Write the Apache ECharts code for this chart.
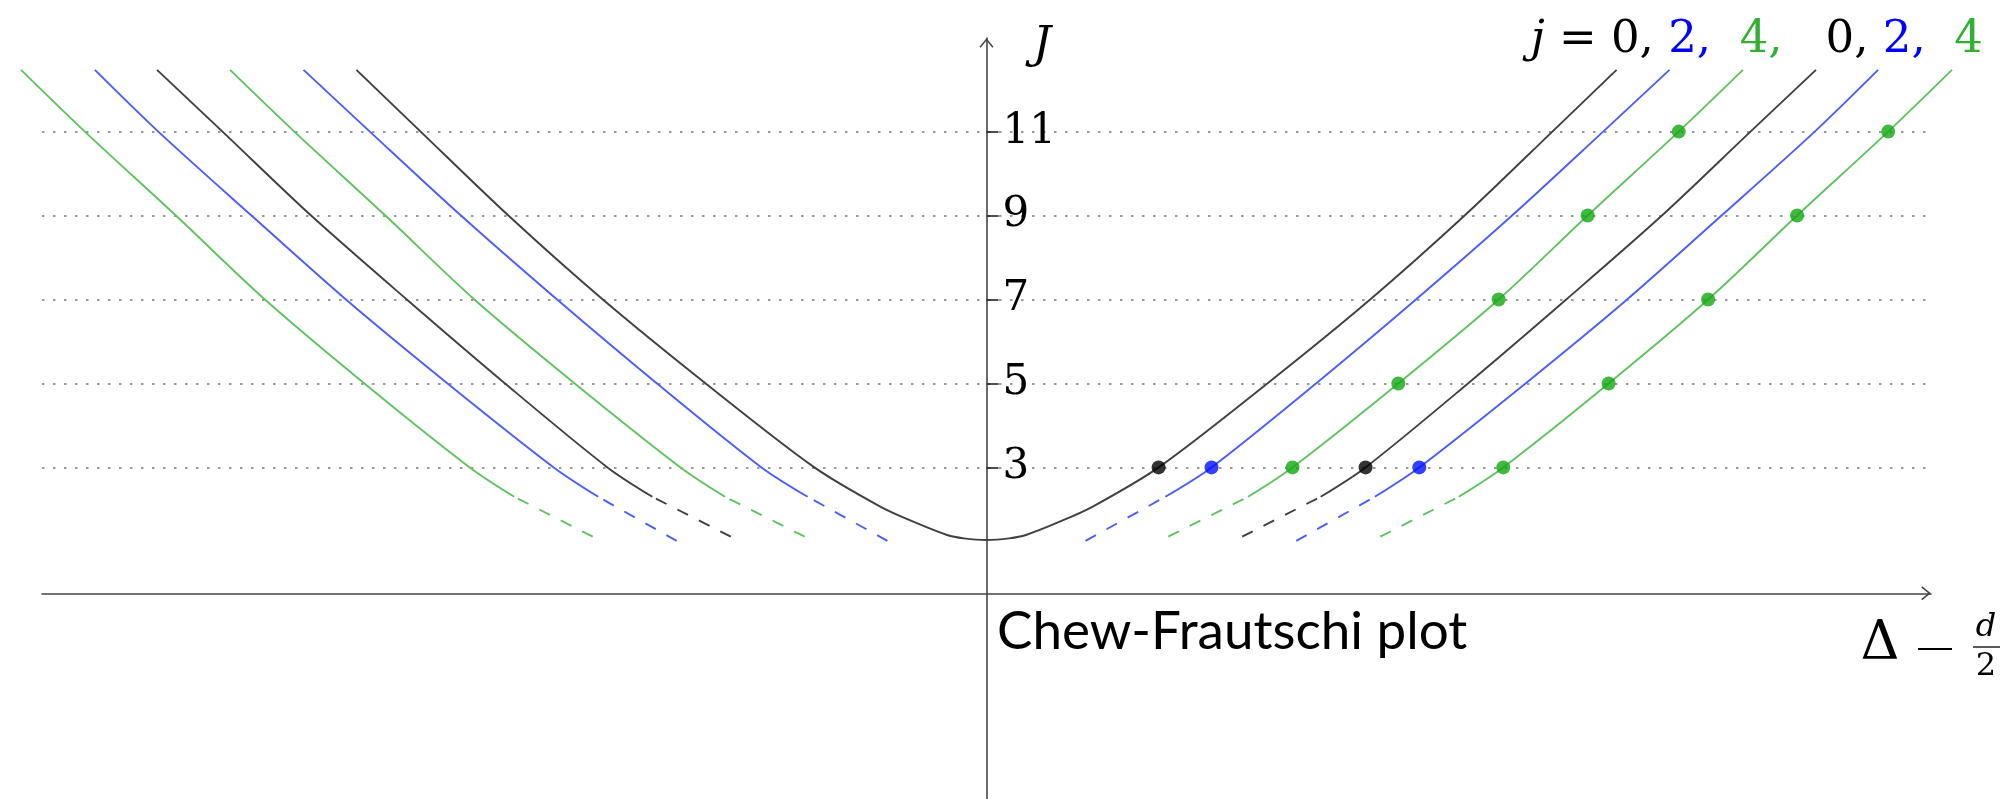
<!DOCTYPE html>
<html><head><meta charset="utf-8">
<script src="https://cdn.jsdelivr.net/npm/echarts@6/dist/echarts.min.js"></script>
<style>html,body{margin:0;padding:0;background:#fff}#c{width:2009px;height:799px}</style>
</head><body><div id="c"></div>
<script>
// J levels that carry tick labels and dotted guide lines
const jTicks = [3, 5, 7, 9, 11];

// Right-hand branches, [Δ - d/2, J]; left branches are the mirror images
const centralRight = [[0,1.27],[0.54,1.31],[0.94,1.39],[1.73,1.70],[2.52,2.06],[4.10,3],[6.69,5],[9.14,7],[11.39,9],[13.48,11],[15.01,12.47]];
const blueA_dash   = [[2.36,1.25],[4.26,2.30]];
const blueA_solid  = [[4.26,2.30],[5.36,3],[7.85,5],[10.23,7],[12.52,9],[14.69,11],[16.27,12.47]];
const greenA_dash  = [[4.33,1.35],[6.23,2.30]];
const greenA_solid = [[6.23,2.30],[7.29,3],[9.81,5],[12.20,7],[14.32,9],[16.49,11],[18.02,12.47]];
const blackB_dash  = [[6.09,1.35],[7.96,2.30]];
const blackB_solid = [[7.96,2.30],[9.03,3],[11.47,5],[13.81,7],[16.09,9],[18.20,11],[19.76,12.47]];
const blueB_dash   = [[7.38,1.25],[9.25,2.30]];
const blueB_solid  = [[9.25,2.30],[10.31,3],[12.84,5],[15.26,7],[17.51,9],[19.73,11],[21.24,12.47]];
const greenB_dash  = [[9.38,1.35],[11.25,2.30]];
const greenB_solid = [[11.25,2.30],[12.31,3],[14.82,5],[17.19,7],[19.31,9],[21.48,11],[23.0,12.47]];

const C_BLACK = '#404040', C_BLUE = '#4c5ef5', C_GREEN = '#62c262';
const D_BLACK = '#000000', D_BLUE = '#0010ff', D_GREEN = '#12a812';
const SERIF = '"DejaVu Serif"';

const mirror = arr => arr.map(([x, j]) => [-x, j]);

function lineSeries(data, color, dashed) {
  return {
    type: 'line', data: data, showSymbol: false, symbol: 'none',
    xAxisIndex: 1, yAxisIndex: 1,
    smooth: 0.3, silent: true,
    lineStyle: { color: color, width: 1.9, type: dashed ? [12, 12] : 'solid' },
    z: 3
  };
}

const series = [];
const central = mirror(centralRight.slice(1)).reverse().concat(centralRight);
series.push(lineSeries(central, C_BLACK, false));
const branches = [
  [blueA_dash, blueA_solid, C_BLUE],
  [greenA_dash, greenA_solid, C_GREEN],
  [blackB_dash, blackB_solid, C_BLACK],
  [blueB_dash, blueB_solid, C_BLUE],
  [greenB_dash, greenB_solid, C_GREEN]
];
branches.forEach(([d, s, c]) => {
  series.push(lineSeries(d, c, true));
  series.push(lineSeries(s, c, false));
  series.push(lineSeries(mirror(d), c, true));
  series.push(lineSeries(mirror(s), c, false));
});
const at = (arr, js) => arr.filter(p => js.indexOf(p[1]) >= 0);
function dots(data, color) {
  return { type: 'scatter', data: data, symbol: 'circle', symbolSize: 14, silent: true,
           xAxisIndex: 1, yAxisIndex: 1, itemStyle: { color: color }, z: 5 };
}
series.push(dots(at(centralRight, [3]).concat(at(blackB_solid, [3])), D_BLACK));
series.push(dots(at(blueA_solid, [3]).concat(at(blueB_solid, [3])), D_BLUE));
series.push(dots(at(greenA_solid, jTicks).concat(at(greenB_solid, jTicks)), D_GREEN));

const arrowPath = 'path://M7,0 L14,8.6 L12.8,9.6 L7,2.4 L1.2,9.6 L0,8.6 Z';
// axis frame (grid 0) and a slightly wider plotting frame (grid 1) with the same scale,
// so that trajectories may run past the ends of the drawn axes as in the original
const GRID_LEFT = 42, GRID_RIGHT = 78, GRID_W = 2009 - GRID_LEFT - GRID_RIGHT;
const X_MIN = -22.5, X_MAX = 22.5, X_PAD = 1;
const PX_PER_UNIT = GRID_W / (X_MAX - X_MIN);
const Y_MIN = -4.9, Y_MAX = 13.23;

const chart = echarts.init(document.getElementById('c'), null, { renderer: 'canvas' });
chart.setOption({
  animation: false,
  backgroundColor: '#ffffff',
  grid: [
    { left: GRID_LEFT, right: GRID_RIGHT, top: 38, bottom: 0, containLabel: false },
    { left: GRID_LEFT - X_PAD * PX_PER_UNIT, right: GRID_RIGHT - X_PAD * PX_PER_UNIT, top: 38, bottom: 0, containLabel: false }
  ],
  xAxis: [{
    type: 'value', gridIndex: 0, min: X_MIN, max: X_MAX,
    axisLine: { show: true, onZero: true, lineStyle: { color: '#444', width: 1.6 },
                symbol: ['none', arrowPath], symbolSize: [14, 10], symbolOffset: [0, -5] },
    axisTick: { show: false }, axisLabel: { show: false }, splitLine: { show: false }
  }, {
    type: 'value', gridIndex: 1, min: X_MIN - X_PAD, max: X_MAX + X_PAD, show: false,
    splitLine: { show: false }
  }],
  yAxis: [{
    type: 'value', gridIndex: 0, min: Y_MIN, max: Y_MAX,
    // place the J axis at Δ - d/2 = 0
    offset: -PX_PER_UNIT * (0 - X_MIN),
    axisLine: { show: true, onZero: false, lineStyle: { color: '#444', width: 1.6 },
                symbol: ['none', arrowPath], symbolSize: [14, 10], symbolOffset: [0, -5] },
    axisTick: { show: true, inside: true, length: 12, customValues: jTicks,
                lineStyle: { color: '#222', width: 1.6 } },
    axisLabel: { show: true, inside: true, margin: 16, customValues: jTicks,
                 fontFamily: 'DejaVu Serif', fontSize: 42, color: '#000' },
    splitLine: { show: true, lineStyle: { color: '#999', width: 2, type: [2.5, 8.5] } }
  }, {
    type: 'value', gridIndex: 1, min: Y_MIN, max: Y_MAX, show: false,
    splitLine: { show: false }
  }],
  graphic: [
    { type: 'text', x: 1033, y: 46, z: 10,
      style: { text: 'J', font: 'italic 45px ' + SERIF, fill: '#000', verticalAlign: 'middle' } },
    { type: 'text', x: 1983, y: 40, z: 10,
      style: {
        text: '{i|j} = 0, {b|2,}  {g|4,}   0, {b|2,}  {g|4}',
        font: '45px ' + SERIF, fill: '#000', align: 'right', verticalAlign: 'middle',
        rich: {
          i: { font: 'italic 45px ' + SERIF, fill: '#000' },
          b: { font: '45px ' + SERIF, fill: '#0000ff' },
          g: { font: '45px ' + SERIF, fill: '#33b033' }
        }
      } },
    { type: 'text', x: 997, y: 632, z: 10,
      style: { text: 'Chew-Frautschi plot', font: '53px Lato', fill: '#000', verticalAlign: 'middle' } },
    { type: 'text', x: 1880, y: 645, z: 10,
      style: { text: 'Δ', font: '54px ' + SERIF, fill: '#000', align: 'center', verticalAlign: 'middle' } },
    { type: 'line', z: 10, shape: { x1: 1918, y1: 649, x2: 1952, y2: 649 }, style: { stroke: '#000', lineWidth: 2.2 } },
    { type: 'text', x: 1986, y: 628, z: 10,
      style: { text: 'd', font: 'italic 32px ' + SERIF, fill: '#000', align: 'center', verticalAlign: 'middle' } },
    { type: 'line', z: 10, shape: { x1: 1973, y1: 647, x2: 2000, y2: 647 }, style: { stroke: '#000', lineWidth: 1.3 } },
    { type: 'text', x: 1986, y: 667, z: 10,
      style: { text: '2', font: '32px ' + SERIF, fill: '#000', align: 'center', verticalAlign: 'middle' } }
  ],
  series: series
});
</script>
</body></html>
